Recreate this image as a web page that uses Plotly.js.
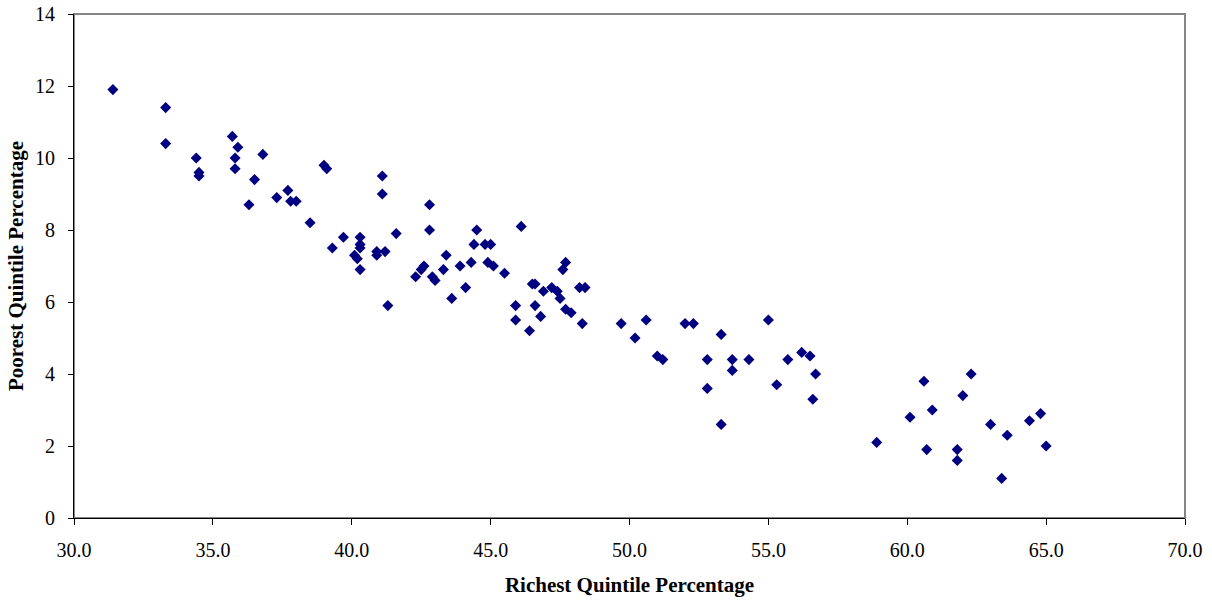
<!DOCTYPE html>
<html>
<head>
<meta charset="utf-8">
<script src="https://cdn.plot.ly/plotly-3.0.1.min.js"></script>
<style>
  html, body { margin: 0; padding: 0; background: #ffffff; }
  #chart { width: 1212px; height: 603px; }
</style>
</head>
<body>
<div id="chart"></div>
<script>
// Share of income held by the richest and poorest quintiles, one point per country
const richestQuintile = [
  31.4, 33.3, 33.3, 34.4, 34.5, 34.5, 35.7, 35.9, 35.8, 35.8,
  36.8, 36.5, 36.3, 37.3, 37.7, 37.8, 38.0, 38.5, 39.0, 39.1,
  39.7, 39.3, 40.3, 40.3, 40.3, 40.1, 40.2, 40.3, 40.9, 40.9,
  41.2, 41.1, 41.1, 41.3, 41.6, 42.3, 42.5, 42.6, 42.8, 42.8,
  42.9, 43.0, 43.3, 43.4, 43.6, 43.9, 44.1, 44.3, 44.4, 44.5,
  44.8, 45.0, 44.9, 45.1, 45.5, 45.9, 45.9, 46.1, 46.4, 46.5,
  46.6, 46.6, 46.8, 46.9, 47.2, 47.4, 47.5, 47.6, 47.7, 47.7,
  47.9, 48.2, 48.4, 48.3, 49.7, 50.2, 50.6, 51.0, 51.2, 52.0,
  52.3, 53.3, 52.8, 52.8, 53.3, 53.7, 53.7, 54.3, 55.0, 55.3,
  55.7, 56.2, 56.5, 56.7, 56.6, 58.9, 60.1, 60.6, 60.7, 60.9,
  61.8, 61.8, 62.0, 62.3, 63.0, 63.4, 63.6, 64.4, 64.8, 65.0
];
const poorestQuintile = [
  11.9, 11.4, 10.4, 10.0, 9.6, 9.5, 10.6, 10.3, 10.0, 9.7,
  10.1, 9.4, 8.7, 8.9, 9.1, 8.8, 8.8, 8.2, 9.8, 9.7,
  7.8, 7.5, 7.8, 7.6, 7.5, 7.3, 7.2, 6.9, 7.4, 7.3,
  7.4, 9.5, 9.0, 5.9, 7.9, 6.7, 6.9, 7.0, 8.7, 8.0,
  6.7, 6.6, 6.9, 7.3, 6.1, 7.0, 6.4, 7.1, 7.6, 8.0,
  7.6, 7.6, 7.1, 7.0, 6.8, 5.9, 5.5, 8.1, 5.2, 6.5,
  6.5, 5.9, 5.6, 6.3, 6.4, 6.3, 6.1, 6.9, 7.1, 5.8,
  5.7, 6.4, 6.4, 5.4, 5.4, 5.0, 5.5, 4.5, 4.4, 5.4,
  5.4, 5.1, 4.4, 3.6, 2.6, 4.4, 4.1, 4.4, 5.5, 3.7,
  4.4, 4.6, 4.5, 4.0, 3.3, 2.1, 2.8, 3.8, 1.9, 3.0,
  1.9, 1.6, 3.4, 4.0, 2.6, 1.1, 2.3, 2.7, 2.9, 2.0
];

const xTicks = [30, 35, 40, 45, 50, 55, 60, 65, 70];
const yTicks = [0, 2, 4, 6, 8, 10, 12, 14];

const serif = 'Liberation Serif, Times New Roman, serif';

const trace = {
  type: 'scatter',
  mode: 'markers',
  x: richestQuintile,
  y: poorestQuintile,
  marker: { symbol: 'diamond', size: 8.5, color: '#000080', line: { width: 0 } },
  hoverinfo: 'x+y'
};

const layout = {
  width: 1212,
  height: 603,
  margin: { l: 74, r: 27, t: 14, b: 85, pad: 0 },
  paper_bgcolor: '#ffffff',
  plot_bgcolor: '#ffffff',
  showlegend: false,
  font: { family: serif, size: 20, color: '#000000' },
  xaxis: {
    range: [30, 70],
    tickvals: xTicks,
    ticktext: xTicks.map(v => v.toFixed(1)),
    ticks: 'outside',
    ticklen: 6,
    tickwidth: 1,
    tickcolor: '#000000',
    ticklabelstandoff: 8,
    showline: true,
    linecolor: '#000000',
    linewidth: 1,
    showgrid: false,
    zeroline: false,
    tickfont: { family: serif, size: 20 },
    title: { text: 'Richest Quintile Percentage', font: { family: serif, size: 21, weight: 'bold' }, standoff: 17 }
  },
  yaxis: {
    range: [0, 14],
    tickvals: yTicks,
    ticks: 'outside',
    ticklen: 5,
    tickwidth: 1,
    tickcolor: '#000000',
    ticklabelstandoff: 9,
    showline: true,
    linecolor: '#000000',
    linewidth: 1,
    showgrid: false,
    zeroline: false,
    tickfont: { family: serif, size: 20 },
    title: { text: 'Poorest Quintile Percentage', font: { family: serif, size: 21, weight: 'bold' }, standoff: 5 }
  },
  shapes: [
    {
      type: 'rect', xref: 'paper', yref: 'paper', x0: 0, x1: 1, y0: 0, y1: 1,
      line: { color: '#868686', width: 2 }, layer: 'below'
    }
  ]
};

Plotly.newPlot('chart', [trace], layout, { displayModeBar: false, staticPlot: true });
</script>
</body>
</html>
